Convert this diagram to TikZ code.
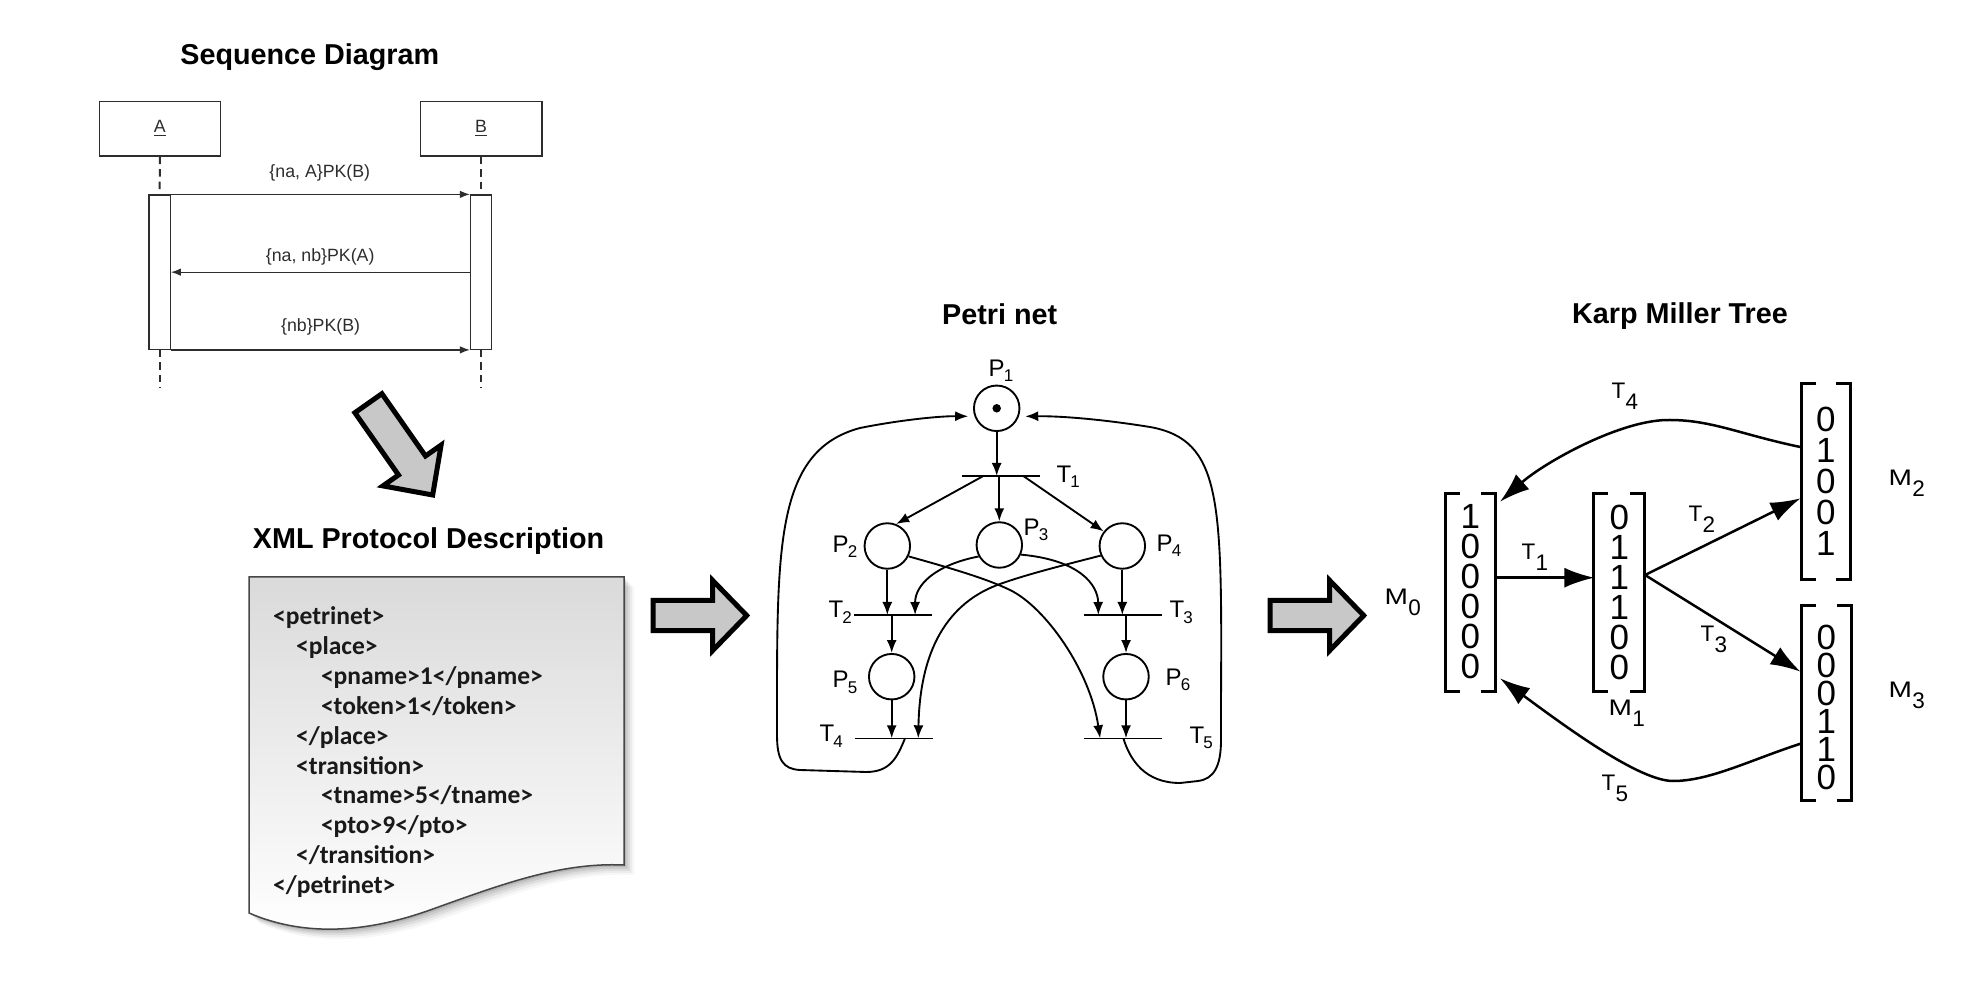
\documentclass[tikz,border=0pt]{standalone}
\usepackage{fontspec}
\setmainfont{Liberation Sans}
\newfontfamily\xmlfont{Carlito}
\usetikzlibrary{arrows.meta}
\definecolor{arrowfill}{RGB}{200,200,200}
\definecolor{doctop}{RGB}{218,218,218}
\definecolor{docline}{RGB}{70,70,70}
\definecolor{seqgray}{RGB}{45,45,45}
\definecolor{xmltext}{RGB}{25,25,25}
\newcommand\pnsub[2]{#1\kern-0.03em\raisebox{-2pt}{\fontsize{6.8pt}{7pt}\selectfont #2}}
\newcommand\kmsub[2]{#1\kern0.02em\raisebox{-4.4pt}{#2}}
\newcommand\wideM{\scalebox{1.25}[1]{M}}
\tikzset{
  ttl/.style={font=\fontsize{11.5pt}{13pt}\selectfont\bfseries, inner sep=0pt, anchor=base},
  sbox/.style={draw=seqgray, line width=0.5pt, fill=white, minimum width=48.6pt, minimum height=21.7pt, inner sep=0pt, font=\fontsize{7.1pt}{8pt}\selectfont, text=seqgray},
  actbar/.style={draw=seqgray, line width=0.5pt, fill=white, minimum width=8.5pt, minimum height=61.7pt, inner sep=0pt},
  life/.style={draw=seqgray, line width=0.8pt, dash pattern=on 3pt off 2pt},
  msg/.style={draw=seqgray, line width=0.5pt, -{Latex[length=4pt,width=3pt]}},
  msglbl/.style={font=\fontsize{7.1pt}{8pt}\selectfont, text=seqgray, inner sep=0pt},
  blockarrow/.style={draw=black, line width=2pt, fill=arrowfill, line join=miter},
  xmlline/.style={font=\xmlfont\bfseries\fontsize{10.2pt}{12pt}\selectfont, anchor=base west, inner sep=0pt, text=xmltext},
  place/.style={draw, circle, line width=0.75pt, minimum size=18.2pt, inner sep=0pt},
  tbar/.style={minimum width=30.8pt, minimum height=0pt, inner sep=0pt, rectangle},
  barline/.style={line width=0.6pt},
  parc/.style={line width=0.75pt, -{Latex[length=5.2pt,width=4pt]}},
  plbl/.style={font=\fontsize{9.6pt}{11pt}\selectfont, anchor=base west, inner sep=0pt},
  klbl/.style={font=\fontsize{9pt}{10pt}\selectfont, anchor=base west, inner sep=0pt},
  mbox/.style={inner sep=0pt},
  brk/.style={line width=1.1pt},
  digits/.style={align=center, inner sep=0pt, font=\fontsize{14pt}{#1}\selectfont},
  karc/.style={line width=1pt, -{Latex[length=12pt,width=8pt]}},
}
\begin{document}
\begin{tikzpicture}[x=0.4pt,y=-0.4pt]
\useasboundingbox (0,0) rectangle (1970,990);
\fill[white] (0,0) rectangle (1970,990);

% ---------------- Sequence diagram ----------------
\node[ttl] (tseq) at (309.8,64.3) {Sequence Diagram};
\node[sbox] (sa) at (159.9,128.85) {\raisebox{-1.5pt}{\underline{A}}};
\node[sbox] (sb) at (481.15,128.85) {\raisebox{-1.5pt}{\underline{B}}};
\node[actbar] (acta) at (159.65,272.15) {};
\node[actbar] (actb) at (481.15,272.15) {};
\coordinate (enda) at (159.65,388.3);
\coordinate (endb) at (481.15,388.3);
\draw[life] (sa.south) -- (acta.north);
\draw[life] (acta.south) -- (enda);
\draw[life] (sb.south) -- (actb.north);
\draw[life] (actb.south) -- (endb);
\draw[msg] (acta.north east) -- (actb.north west);
\draw[msg] (actb.west) -- (acta.east);
\draw[msg] (acta.south east) -- (actb.south west);
\node[msglbl] (l1) at (319.8,172.7) {\{na, A\}PK(B)};
\node[msglbl] (l2) at (320.2,256.7) {\{na, nb\}PK(A)};
\node[msglbl] (l3) at (320.6,326.7) {\{nb\}PK(B)};

% diagonal block arrow
\draw[blockarrow] (354.9,412.7) -- (398.5,475.0) -- (382.9,485.9) -- (432.7,495.0)
  -- (441.1,445.1) -- (425.5,456.0) -- (381.9,393.7) -- cycle;

% ---------------- XML description ----------------
\node[ttl] (txml) at (428.6,548.3) {XML Protocol Description};
\foreach \d/\o in {2/0.10,4/0.08,6/0.06,8/0.045,10/0.03}{
  \fill[black, opacity=\o, shift={(\d,\d)}] (249,577) -- (624,577) -- (624,865)
    .. controls (560,862) and (500,885) .. (430,910)
    .. controls (360,935) and (300,935) .. (249,913) -- cycle;
}
\shade[top color=doctop, bottom color=white] (249,577) -- (624,577) -- (624,865)
    .. controls (560,862) and (500,885) .. (430,910)
    .. controls (360,935) and (300,935) .. (249,913) -- cycle;
\draw[docline, line width=0.6pt] (249,577) -- (624,577) -- (624,865)
    .. controls (560,862) and (500,885) .. (430,910)
    .. controls (360,935) and (300,935) .. (249,913) -- cycle;
\node[xmlline] (x1) at (272.7,625) {<petrinet>};
\node[xmlline] (x2) at (295.7,654.8) {<place>};
\node[xmlline] (x3) at (320.5,684.6) {<pname>1</pname>};
\node[xmlline] (x4) at (320.5,714.4) {<token>1</token>};
\node[xmlline] (x5) at (295.7,744.2) {</place>};
\node[xmlline] (x6) at (295.7,774) {<transition>};
\node[xmlline] (x7) at (320.5,803.8) {<tname>5</tname>};
\node[xmlline] (x8) at (320.5,833.6) {<pto>9</pto>};
\node[xmlline] (x9) at (295.7,863.4) {</transition>};
\node[xmlline] (x10) at (272.7,893.2) {</petrinet>};

% block arrow 1
\draw[blockarrow] (653,600.3) -- (712.7,600.3) -- (712.7,580.5) -- (746.7,615.5)
  -- (712.7,650.5) -- (712.7,630.7) -- (653,630.7) -- cycle;

% ---------------- Petri net ----------------
\node[ttl] (tpn) at (999.7,324.3) {Petri net};
\node[place] (p1) at (996.7,408.3) {};
\fill (p1.center) circle[radius=1.7pt];
\node[place] (p2) at (887.3,546) {};
\node[place] (p3) at (999.3,545) {};
\node[place] (p4) at (1122.3,546) {};
\node[place] (p5) at (891.7,676.7) {};
\node[place] (p6) at (1126,676.7) {};
\node[tbar] (t1) at (1000.8,476) {};
\node[tbar] (t2) at (893.35,615) {};
\node[tbar] (t3) at (1123.35,615) {};
\node[tbar] (t4) at (893.5,738.3) {};
\node[tbar] (t5) at (1123.35,738.3) {};
\foreach \t in {t1,t2,t3,t4,t5}{\draw[barline] (\t.west) -- (\t.east);}

\node[plbl] (lp1) at (988,377) {\pnsub{P}{1}};
\node[plbl] (lt1) at (1056,483) {\pnsub{T}{1}};
\node[plbl] (lp2) at (832,553) {\pnsub{P}{2}};
\node[plbl] (lp3) at (1023,536) {\pnsub{P}{3}};
\node[plbl] (lp4) at (1156,552) {\pnsub{P}{4}};
\node[plbl] (lt2) at (828,618) {\pnsub{T}{2}};
\node[plbl] (lt3) at (1169,618) {\pnsub{T}{3}};
\node[plbl] (lp5) at (832,688) {\pnsub{P}{5}};
\node[plbl] (lp6) at (1165,685) {\pnsub{P}{6}};
\node[plbl] (lt4) at (819,742) {\pnsub{T}{4}};
\node[plbl] (lt5) at (1189,743) {\pnsub{T}{5}};

\draw[parc] (p1.south) -- (p1.south |- t1);
\draw[parc] ([xshift=-7pt]t1.center) -- (p2.68);
\draw[parc] (p3.north |- t1) -- (p3.north);
\draw[parc] ([xshift=9pt]t1.center) -- (p4.142);
\draw[parc] (p2.south) -- (p2.south |- t2);
\draw[parc] (p3.209) .. controls (935,565) and (915,585) .. ([xshift=8.7pt]t2.center);
\draw[parc] (p3.-24) .. controls (1080,560) and (1098,585) .. ([xshift=-10pt]t3.center);
\draw[parc] (p4.south) -- (p4.south |- t3);
\draw[parc] (p5.north |- t2) -- (p5.north);
\draw[parc] (p6.north |- t3) -- (p6.north);
\draw[parc] (p5.south) -- (p5.south |- t4);
\draw[parc] (p6.south) -- (p6.south |- t5);
\draw[parc] (p2.-26) .. controls (950,568) and (985,578) .. (1010,590)
  .. controls (1045,607) and (1090,670) .. ([xshift=-9.3pt]t5.center);
\draw[parc] (p4.204) .. controls (1060,566) and (1025,575) .. (1000,584)
  .. controls (955,600) and (920,640) .. ([xshift=9.9pt]t4.center);
\draw[parc, shorten >=2.5pt] ([xshift=4.6pt]t4.center) .. controls (897,758) and (890,772) .. (866,772)
  -- (800,770) .. controls (783,769) and (777,760) .. (777,735) -- (777,705)
  .. controls (777,540) and (778,450) .. (860,428)
  .. controls (900,420) and (940,416) .. (p1.200);
\draw[parc, shorten >=2.5pt] (t5.center) .. controls (1130,760) and (1145,783) .. (1180,783)
  -- (1198,781) .. controls (1214,779) and (1221,766) .. (1221,740) -- (1221,700)
  .. controls (1222,500) and (1222,440) .. (1150,427)
  .. controls (1100,419) and (1060,416) .. (p1.-20);

% block arrow 2
\draw[blockarrow] (1270,600.3) -- (1329.7,600.3) -- (1329.7,580.5) -- (1363.7,615.5)
  -- (1329.7,650.5) -- (1329.7,630.7) -- (1270,630.7) -- cycle;

% ---------------- Karp Miller tree ----------------
\node[ttl] (tkm) at (1680,324) {Karp Miller Tree};
\node[mbox, minimum width=19.72pt, minimum height=78.68pt] (m0) at (1470.35,592.35) {};
\node[mbox, minimum width=20pt, minimum height=78.68pt] (m1) at (1619.3,592.35) {};
\node[mbox, minimum width=19.32pt, minimum height=78.12pt] (m2) at (1825.85,481.65) {};
\node[mbox, minimum width=19.6pt, minimum height=77.6pt] (m3) at (1826.2,703) {};
\foreach \m in {m0,m1,m2,m3}{
  \draw[brk] ([xshift=5.8pt]\m.north west) -- (\m.north west) -- (\m.south west) -- ([xshift=5.8pt]\m.south west);
  \draw[brk] ([xshift=-5.8pt]\m.north east) -- (\m.north east) -- (\m.south east) -- ([xshift=-5.8pt]\m.south east);
}
\node[digits=12pt] (m0v) at (1470.35,592) {1\\0\\0\\0\\0\\0};
\node[digits=12pt] (m1v) at (1619.3,592) {0\\1\\1\\1\\0\\0};
\node[digits=12.4pt] (m2v) at (1825.85,481) {0\\1\\0\\0\\1};
\node[digits=11.2pt] (m3v) at (1826.2,707) {0\\0\\0\\1\\1\\0};

\node[klbl] (lm0) at (1384,605) {\kmsub{\wideM}{0}};
\node[klbl] (lm1) at (1608,715) {\kmsub{\wideM}{1}};
\node[klbl] (lm2) at (1888,486) {\kmsub{\wideM}{2}};
\node[klbl] (lm3) at (1888,697) {\kmsub{\wideM}{3}};
\node[klbl] (lk1) at (1521,560) {\kmsub{T}{1}};
\node[klbl] (lk2) at (1688,521.7) {\kmsub{T}{2}};
\node[klbl] (lk3) at (1700,641.7) {\kmsub{T}{3}};
\node[klbl] (lk4) at (1611,398.5) {\kmsub{T}{4}};
\node[klbl] (lk5) at (1601,790) {\kmsub{T}{5}};

\coordinate (m0a) at (1495,577.7);
\coordinate (m1a) at (1594.3,577.7);
\coordinate (m1o) at (1645,575);
\coordinate (m2a) at (1800.5,498.3);
\coordinate (m3a) at (1800.5,671.7);
\coordinate (m2o) at (1801.7,447.3);
\coordinate (m3o) at (1801.7,743.3);
\coordinate (m0t) at (1500,501.7);
\coordinate (m0b) at (1500,678.3);
\draw[karc] (m0a) -- (m1a);
\draw[karc] (m1o) -- (m2a);
\draw[karc] (m1o) -- (m3a);
\draw[karc] (m2o) .. controls (1742,435) and (1712,420) .. (1670,420)
  .. controls (1622,419) and (1545,462) .. (m0t);
\draw[karc] (m3o) .. controls (1750,760) and (1710,781) .. (1673,781)
  .. controls (1640,781) and (1570,730) .. (m0b);
\end{tikzpicture}
\end{document}
